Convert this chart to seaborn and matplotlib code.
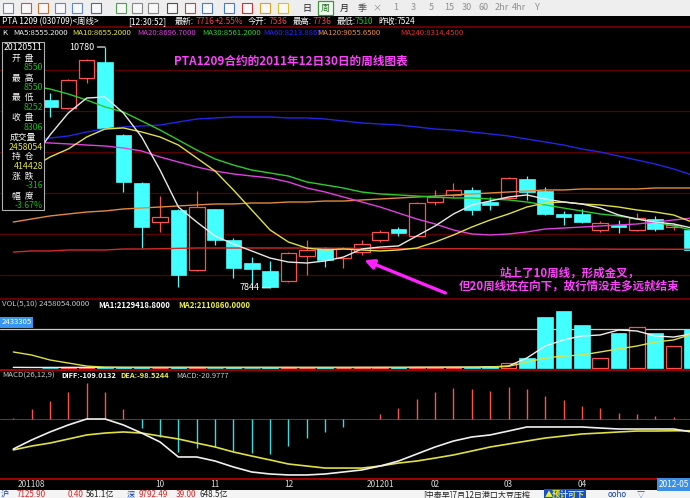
import numpy as np
import matplotlib
matplotlib.use("Agg")
import matplotlib.pyplot as plt
import matplotlib.transforms as mtrans
from matplotlib.patches import Rectangle
import seaborn as sns

# ---------------- data ----------------
week_idx = list(range(36))
opens  = [10130, 10040, 10400, 10600, 9710, 9120, 8645, 8795, 8060, 8805, 8430, 8145, 8050, 7930, 8230, 8330, 8210, 8280,
          8430, 8560, 8480, 8890, 8975, 9040, 8890, 8940, 9170, 9025, 8745, 8745, 8550, 8610, 8550, 8685, 8590, 8550]
highs  = [10220, 10390, 10635, 10780, 9720, 9130, 8960, 8800, 9025, 8810, 8450, 8220, 8170, 8280, 8430, 8340, 8340, 8430,
          8550, 8580, 8885, 9040, 9120, 9075, 8950, 9195, 9210, 9075, 8780, 8805, 8660, 8670, 8755, 8720, 8635, 8550]
lows   = [9930, 10030, 10340, 9780, 9010, 8330, 8525, 7850, 8050, 8370, 7965, 7855, 7844, 7915, 8000, 8100, 8090, 8245,
          8400, 8480, 8470, 8855, 8950, 8735, 8795, 8925, 8915, 8730, 8610, 8635, 8525, 8510, 8535, 8535, 8550, 8252]
closes = [10050, 10380, 10620, 9790, 9135, 8585, 8705, 8000, 8830, 8430, 8085, 8075, 7855, 8270, 8300, 8185, 8330, 8380,
          8530, 8510, 8880, 8950, 9040, 8795, 8855, 9185, 9010, 8745, 8705, 8645, 8635, 8590, 8695, 8560, 8610, 8306]

ma_idx = list(range(-2, 36))
ma5   = [9220, 9402, 9707, 9976, 10158, 10171, 9976, 9683, 9280, 8829, 8646, 8476, 8378, 8293, 8207, 8158, 8146, 8171, 8219,
         8317, 8341, 8354, 8476, 8598, 8744, 8854, 8902, 8951, 8976, 8927, 8890, 8866, 8817, 8732, 8683, 8646, 8622, 8573]
ma10  = [9220, 9305, 9439, 9537, 9683, 9780, 9793, 9744, 9683, 9585, 9427, 9268, 9037, 8793, 8549, 8402, 8329, 8305, 8317,
         8305, 8293, 8305, 8329, 8402, 8488, 8585, 8671, 8744, 8829, 8878, 8890, 8866, 8854, 8829, 8793, 8768, 8732, 8646]
ma20  = [9622, 9622, 9610, 9598, 9585, 9573, 9549, 9512, 9439, 9378, 9317, 9268, 9232, 9207, 9183, 9134, 9061, 9012, 8951,
         8890, 8829, 8756, 8683, 8622, 8549, 8500, 8488, 8500, 8525, 8561, 8573, 8585, 8598, 8610, 8622, 8646, 8671, 8695]
ma30  = [10329, 10305, 10268, 10207, 10134, 10049, 9988, 9878, 9768, 9646, 9524, 9415, 9341, 9280, 9244, 9207, 9134, 9098,
         9061, 9012, 8988, 8976, 8963, 8951, 8939, 8939, 8927, 8915, 8890, 8854, 8817, 8780, 8744, 8720, 8683, 8646, 8598, 8549]
ma60  = [9634, 9646, 9671, 9695, 9744, 9780, 9805, 9817, 9829, 9866, 9902, 9915, 9927, 9927, 9927, 9915, 9915, 9902, 9878,
         9854, 9841, 9829, 9805, 9780, 9768, 9744, 9720, 9695, 9658, 9622, 9585, 9537, 9500, 9451, 9402, 9354, 9293, 9220]
ma120 = [8646, 8683, 8720, 8744, 8768, 8781, 8805, 8817, 8829, 8842, 8854, 8866, 8866, 8878, 8878, 8890, 8890, 8902, 8902,
         8915, 8927, 8939, 8951, 8963, 8976, 8988, 9000, 9012, 9024, 9037, 9037, 9049, 9049, 9049, 9049, 9061, 9061, 9061]
ma240 = [8280, 8293, 8293, 8305, 8305, 8305, 8317, 8317, 8320, 8325, 8329, 8329, 8329, 8329, 8329, 8329, 8329, 8329, 8325,
         8325, 8325, 8322, 8322, 8320, 8320, 8320, 8318, 8318, 8317, 8317, 8317, 8316, 8316, 8315, 8315, 8315, 8314, 8314]

volume = [30000, 35000, 40000, 45000, 40000, 35000, 30000, 40000, 35000, 30000, 35000, 30000, 40000, 35000, 30000, 35000,
          30000, 40000, 35000, 45000, 50000, 60000, 70000, 90000, 100000, 312000, 624000, 3182000, 3556000, 2683000,
          624000, 2184000, 2558000, 2184000, 1373000, 2458054]
vol_ma1 = [40000, 35000, 35000, 38000, 40000, 40000, 38000, 36000, 36000, 35000, 35000, 34000, 34000, 35000, 35000, 34000,
           34000, 35000, 35000, 35000, 36000, 38000, 42000, 45000, 50000, 55000, 60000, 125000, 624000, 1370000, 1750000,
           2000000, 2060000, 2370000, 2310000, 2000000, 1930000, 2129419]
vol_ma2 = [1000000, 810000, 500000, 310000, 120000, 50000, 40000, 40000, 40000, 40000, 38000, 38000, 37000, 37000, 36000,
           36000, 36000, 36000, 36000, 36000, 37000, 38000, 40000, 42000, 45000, 50000, 60000, 100000, 370000, 620000,
           750000, 810000, 1000000, 1190000, 1370000, 1620000, 1750000, 2110860]

macd_hist = [5, 84, 151, 227, 302, 227, 84, -76, -151, -277, -244, -235, -269, -286, -294, -227, -160, -109, -67, -3,
             42, 92, 168, 227, 260, 252, 235, 269, 252, 193, 160, 109, 92, 50, 42, 25, 17, -21]
diff = [-252, -176, -109, -50, 0, 0, -50, -118, -193, -319, -319, -353, -403, -445, -462, -470, -470, -462, -445, -428,
        -395, -353, -294, -235, -185, -151, -134, -101, -67, -67, -67, -67, -76, -84, -84, -84, -84, -109]
dea = [-260, -227, -202, -168, -134, -118, -109, -118, -143, -168, -202, -235, -277, -311, -344, -378, -395, -412, -412,
       -412, -395, -370, -353, -328, -302, -269, -235, -210, -185, -160, -143, -126, -118, -109, -101, -101, -99, -98.5]

month_labels = ["201108", "10", "11", "12", "201201", "02", "03", "04", "2012-05"]
month_pos = [-1, 6, 9, 13, 18, 21, 25, 29, 34]
price_grid = [8000, 8500, 9000, 9500, 10000, 10500]

# ---------------- style ----------------
sns.set_theme(style="dark", rc={"axes.facecolor": "black", "figure.facecolor": "black"})
plt.rcParams["font.family"] = ["Noto Sans CJK SC", "DejaVu Sans"]

W, H = 690, 498
fig = plt.figure(figsize=(6.9, 4.98), dpi=100, facecolor="black")


def rect(x0, y0, x1, y1):
    return [x0 / W, 1 - y1 / H, (x1 - x0) / W, (y1 - y0) / H]


def ftxt(x, y, s, color="white", size=6, ha="left", va="center", **kw):
    return fig.text(x / W, 1 - y / H, s, color=color, fontsize=size, ha=ha, va=va, **kw)


def fline(y, color, lw=1.0, x0=0, x1=690):
    fig.add_artist(plt.Line2D([x0 / W, x1 / W], [1 - y / H, 1 - y / H], color=color, lw=lw,
                              transform=fig.transFigure, zorder=2))


XMIN, XMAX = -50 / 18.34, 640 / 18.34
ax = fig.add_axes(rect(0, 38, 690, 298))
axv = fig.add_axes(rect(0, 299, 690, 370))
axm = fig.add_axes(rect(0, 370, 690, 479))
for a in (ax, axv, axm):
    a.set_facecolor("black")
    a.set_xlim(XMIN, XMAX)
    a.grid(False)
    for s in a.spines.values():
        s.set_visible(False)

RED = "#ff5050"
CYAN = "#44ffff"
ax.set_ylim(7719.5, 10890)

for p in price_grid:
    ax.axhline(p, color="#5e0000", lw=0.9, zorder=1)

x = np.array(week_idx)
o, h, l, c = map(np.array, (opens, highs, lows, closes))
up = c >= o
dn = ~up
ax.vlines(x[up], c[up], h[up], color=RED, lw=0.9, zorder=2)
ax.vlines(x[up], l[up], o[up], color=RED, lw=0.9, zorder=2)
ax.vlines(x[dn], l[dn], h[dn], color=CYAN, lw=0.9, zorder=2)
ax.bar(x[up], c[up] - o[up], bottom=o[up], width=0.85, facecolor="black", edgecolor=RED, lw=0.9, zorder=3)
ax.bar(x[dn], o[dn] - c[dn], bottom=c[dn], width=0.85, facecolor=CYAN, edgecolor=CYAN, lw=0.5, zorder=3)

ma_styles = [(ma240, "#d42a2a"), (ma120, "#e4893c"), (ma60, "#2424e6"), (ma30, "#2ccc2c"),
             (ma20, "#e040e0"), (ma10, "#e0e040"), (ma5, "#e8e8e8")]
for arr, col in ma_styles:
    sns.lineplot(x=ma_idx, y=arr, ax=ax, color=col, lw=1.0, legend=False, zorder=4)

ax.annotate("10780", xy=(3, 10780), xytext=(-11, 0), textcoords="offset pixels", ha="right", va="center",
            color="white", fontsize=6.5, arrowprops=dict(arrowstyle="-", color="white", lw=0.8, shrinkA=0, shrinkB=0))
ax.annotate("7844", xy=(12, 7844), xytext=(-11, 0), textcoords="offset pixels", ha="right", va="center",
            color="white", fontsize=6.5, arrowprops=dict(arrowstyle="-", color="white", lw=0.8, shrinkA=0, shrinkB=0))

# arrow annotation
ax.annotate("", xy=(17.0, 8195), xytext=(21.7, 7768),
            arrowprops=dict(arrowstyle="-|>", color="#ff22ff", lw=2.4, mutation_scale=14), zorder=6)

# volume panel
axv.set_ylim(-124800, 4305000)
v = np.array(volume)
axv.bar(x[up], v[up], width=0.85, facecolor="black", edgecolor=RED, lw=0.9, zorder=3)
axv.bar(x[dn], v[dn], width=0.85, facecolor=CYAN, edgecolor=CYAN, lw=0.5, zorder=3)
axv.axhline(2433305, color="#c8c8c8", lw=0.9, zorder=2)
sns.lineplot(x=ma_idx, y=vol_ma1, ax=axv, color="#f0f0f0", lw=1.0, legend=False, zorder=4)
sns.lineplot(x=ma_idx, y=vol_ma2, ax=axv, color="#e0e040", lw=1.0, legend=False, zorder=4)

# macd panel
axm.set_ylim(-504, 411.6)
axm.axhline(0, color="#a02020", lw=0.7, zorder=1)
mh = np.array(macd_hist, dtype=float)
mi = np.array(ma_idx)
axm.vlines(mi[mh > 0], 0, mh[mh > 0], color="#ff5050", lw=1.0, zorder=2)
axm.vlines(mi[mh <= 0], mh[mh <= 0], 0, color="#30e0e0", lw=1.0, zorder=2)
sns.lineplot(x=ma_idx, y=dea, ax=axm, color="#e0e040", lw=1.2, legend=False, zorder=3)
sns.lineplot(x=ma_idx, y=diff, ax=axm, color="#f0f0f0", lw=1.2, legend=False, zorder=4)

for a in (ax, axv, axm):
    a.set_xticks([])
    a.set_yticks([])
    a.set_xlabel("")
    a.set_ylabel("")
    a.set_xlim(XMIN, XMAX)

# month labels in bottom band
btr = mtrans.blended_transform_factory(axm.transData, fig.transFigure)
for lab, pos in zip(month_labels, month_pos):
    if lab == "2012-05":
        fig.text(pos, 1 - 484.5 / H, lab, transform=btr, color="white", fontsize=6, ha="center", va="center",
                 bbox=dict(facecolor="#3c8fe6", edgecolor="none", pad=1.2))
    else:
        fig.text(pos, 1 - 484.5 / H, lab, transform=btr, color="#d8d8d8", fontsize=6, ha="center", va="center")

# separators
fline(27.5, "#7a0000", 1.2)
fline(298.5, "#7a0000", 1.2)
fline(369.5, "#c00000", 1.2)
fline(479.0, "#c00000", 1.2)

# toolbar
fig.add_artist(Rectangle((0, 1 - 16 / H), 1, 16 / H, transform=fig.transFigure, facecolor="#eeeeee",
                         edgecolor="none", zorder=1))
icon_x = [8, 26, 43, 60, 77, 96, 121, 137, 153, 172, 190, 207, 229, 247, 265, 283]
icon_col = ["#5a8ad6", "#d05050", "#d07030", "#5a8ad6", "#5a8ad6", "#3a6ac0", "#50a050", "#888888", "#888888",
            "#505050", "#d04040", "#4a7ad0", "#4a7ad0", "#d03030", "#e0a020", "#e0c020"]
for ix, icol in zip(icon_x, icon_col):
    fig.add_artist(Rectangle(((ix - 5) / W, 1 - 13 / H), 10 / W, 10 / H, transform=fig.transFigure,
                             facecolor="#f8f8f8", edgecolor=icol, lw=0.8, zorder=2))
fig.add_artist(Rectangle((318 / W, 1 - 15 / H), 15 / W, 14 / H, transform=fig.transFigure,
                         facecolor="#f4fff4", edgecolor="#3a9a3a", lw=0.9, zorder=2))
for tx, ts, tc in [(307, "日", "#202020"), (325.5, "周", "#207020"), (344, "月", "#202020"), (362, "季", "#505050"),
                   (377, "×", "#909090"), (396, "1", "#909090"), (413, "3", "#909090"), (431, "5", "#909090"),
                   (449, "15", "#909090"), (467, "30", "#909090"), (484, "60", "#909090"), (502, "2hr", "#909090"),
                   (519, "4hr", "#909090"), (537, "Y", "#909090")]:
    ftxt(tx, 8, ts, color=tc, size=6.5, ha="center")

# header line 1
for tx, ts, tc in [(2, "PTA 1209 (030709)<周线>", "white"), (128, "[12:30:52]", "white"), (175, "最新:", "white"),
                   (196, "7716", "#ff4040"), (215, "+2.55%", "#ff4040"), (248, "今开:", "white"),
                   (269, "7536", "#ff4040"), (293, "最高:", "white"), (313, "7736", "#ff4040"),
                   (337, "最低:", "white"), (355, "7510", "#00e000"), (378, "昨收:", "white"), (397, "7524", "white")]:
    ftxt(tx, 21.5, ts, color=tc, size=6)

# header line 2 (MA values)
for tx, ts, tc in [(2, "K", "white"), (13, "MA5:8555.2000", "#f0f0f0"), (72, "MA10:8655.2000", "#e8e840"),
                   (137, "MA20:8696.7000", "#e040e0"), (202, "MA30:8561.2000", "#30d030"),
                   (263, "MA60:8213.8867", "#2a2aff"), (317, "MA120:9055.6500", "#e89040"),
                   (400, "MA240:8314.4500", "#e83030")]:
    ftxt(tx, 33, ts, color=tc, size=5.6)

# info box
fig.add_artist(Rectangle((2 / W, 1 - 210 / H), 42 / W, 168 / H, transform=fig.transFigure,
                         facecolor="black", edgecolor="#b0b0b0", lw=0.8, zorder=5))
info_rows = [(47, "20120511", "white", "center"), (58, "开  盘", "white", "center"), (67.5, "8550", "#10c010", "right"),
             (78, "最  高", "white", "center"), (87.5, "8550", "#10c010", "right"), (97.5, "最  低", "white", "center"),
             (107, "8252", "#10c010", "right"), (117, "收  盘", "white", "center"), (127, "8306", "#10c010", "right"),
             (137, "成交量", "white", "center"), (147, "2458054", "#e8e830", "right"), (157, "持  仓", "white", "center"),
             (166.5, "414428", "#e8e830", "right"), (176, "涨  跌", "white", "center"), (186, "-316", "#10c010", "right"),
             (196, "幅  度", "white", "center"), (205, "-3.67%", "#10c010", "right")]
for ry, rs, rc, rha in info_rows:
    xx = 23 if rha == "center" else 43
    ftxt(xx, ry, rs, color=rc, size=6.3, ha=rha, zorder=6)

# title and comment texts
ftxt(174, 61, "PTA1209合约的2011年12日30日的周线图表", color="#ff40ff", size=8.4, weight="bold")
ftxt(500, 273, "站上了10周线，形成金叉，", color="#ff40ff", size=8.3, weight="bold")
ftxt(459, 286, "但20周线还在向下，故行情没走多远就结束", color="#ff40ff", size=8.3, weight="bold")

# volume header
ftxt(2, 305, "VOL(5,10) 2458054.0000", color="#c8c8c8", size=5.6)
ftxt(98, 305, "MA1:2129418.8000", color="white", size=5.6, weight="bold")
ftxt(178, 305, "MA2:2110860.0000", color="#f0f040", size=5.6, weight="bold")
ftxt(1.5, 322.5, "2433305", color="white", size=5.6, bbox=dict(facecolor="#3a96f0", edgecolor="none", pad=0.8))

# macd header
ftxt(2, 376, "MACD(26,12,9)", color="#c8c8c8", size=5.6)
ftxt(61, 376, "DIFF:-109.0132", color="white", size=5.4, weight="bold")
ftxt(120, 376, "DEA:-98.5244", color="#f0f040", size=5.4, weight="bold")
ftxt(176, 376, "MACD:-20.9777", color="#c8c8c8", size=5.4)

# status bar
fig.add_artist(Rectangle((0, 0), 1, 8 / H, transform=fig.transFigure, facecolor="#f4f4f4", edgecolor="none",
                         zorder=1))
for tx, ts, tc in [(1, "沪", "#1040c0"), (17, "7125.90", "#e02020"), (68, "0.40", "#e02020"),
                   (86, "561.1亿", "#202020"), (127, "深", "#1040c0"), (139, "9792.49", "#e02020"),
                   (176, "39.00", "#e02020"), (200, "648.5亿", "#202020"),
                   (423, "[中泰早]7月12日港口大豆压榨", "#202020"), (608, "ooho", "#1040c0"),
                   (637, "▽", "#1040c0")]:
    ftxt(tx, 494.5, ts, color=tc, size=5.8)
ftxt(545, 494.5, "▲预计可下", color="#f0f020", size=5.8, weight="bold",
     bbox=dict(facecolor="#1850d0", edgecolor="none", pad=0.8))

fig.savefig("out.png", dpi=100, facecolor="black")
